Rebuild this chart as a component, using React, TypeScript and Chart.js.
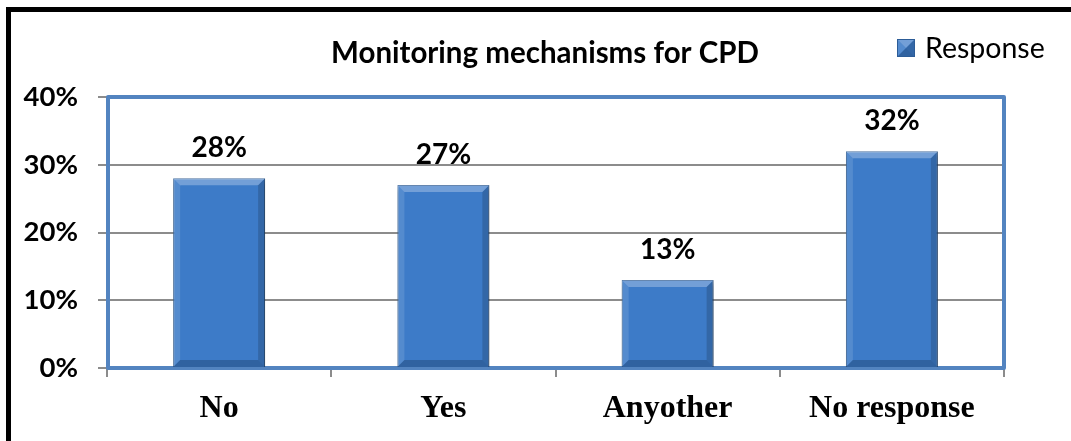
import React, { useEffect, useRef } from "react";
import { Chart, registerables } from "chart.js";

Chart.register(...registerables);

const TITLE_TEXT = "Monitoring mechanisms for CPD";
const SERIES_LABEL = "Response";
const CATEGORIES = ["No", "Yes", "Anyother", "No response"];
const VALUES = [0.28, 0.27, 0.13, 0.32];
const Y_MAX = 0.4;
const Y_STEP = 0.1;

const SANS = "Lato, 'Liberation Sans', sans-serif";
const SERIF = "'Liberation Serif', 'Times New Roman', serif";
const BAR_FACE = "#3d7bc8";
const BAR_EDGE = "#2c5c97";
const FRAME_BLUE = "#5384c0";

const pct = (v: number) => `${Math.round(v * 100)}%`;

// Bevelled rectangle: light top, dark bottom, shaded sides
function drawBevel(ctx: CanvasRenderingContext2D, l: number, t: number, r: number, b: number, bev: number) {
  const faces: [string, number[][]][] = [
    ["rgba(255,255,255,0.28)", [[l, t], [r, t], [r - bev, t + bev], [l + bev, t + bev]]],
    ["rgba(255,255,255,0.12)", [[l, t], [l + bev, t + bev], [l + bev, b - bev], [l, b]]],
    ["rgba(0,0,0,0.16)", [[r, t], [r, b], [r - bev, b - bev], [r - bev, t + bev]]],
    ["rgba(0,0,0,0.20)", [[l, b], [l + bev, b - bev], [r - bev, b - bev], [r, b]]],
  ];
  for (const [color, pts] of faces) {
    ctx.beginPath();
    ctx.moveTo(pts[0][0], pts[0][1]);
    for (let i = 1; i < pts.length; i++) ctx.lineTo(pts[i][0], pts[i][1]);
    ctx.closePath();
    ctx.fillStyle = color;
    ctx.fill();
  }
}

const decorPlugin = {
  id: "decor",
  beforeDraw(chart: any) {
    const { ctx, width, height } = chart;
    ctx.save();
    ctx.fillStyle = "#ffffff";
    ctx.fillRect(0, 0, width, height);
    // outer black frame: only its left and top edges fall inside the canvas
    ctx.fillStyle = "#000000";
    ctx.fillRect(6, 7, width - 6, 5);
    ctx.fillRect(6, 7, 5, height - 7);
    ctx.restore();
  },
  beforeDatasetsDraw(chart: any) {
    const { ctx, chartArea } = chart;
    const { left, top, right, bottom } = chartArea;
    ctx.save();
    ctx.strokeStyle = FRAME_BLUE;
    ctx.lineWidth = 4;
    ctx.lineJoin = "round";
    ctx.strokeRect(left + 1, top, right - left - 1, bottom - top);
    ctx.restore();
    // soft drop shadow under the bars
    ctx.save();
    ctx.shadowColor = "rgba(0,0,0,0.35)";
    ctx.shadowBlur = 6;
    ctx.shadowOffsetX = 1;
    ctx.shadowOffsetY = 3;
  },
  afterDatasetsDraw(chart: any) {
    const { ctx } = chart;
    ctx.restore();
    const meta = chart.getDatasetMeta(0);
    ctx.save();
    meta.data.forEach((bar: any, i: number) => {
      const { x, y, base, width } = bar.getProps(["x", "y", "base", "width"], true);
      drawBevel(ctx, x - width / 2, y, x + width / 2, base, 7);
      const v = chart.data.datasets[0].data[i] as number;
      ctx.fillStyle = "#000000";
      ctx.font = `bold 28px ${SANS}`;
      ctx.textAlign = "center";
      ctx.textBaseline = "alphabetic";
      ctx.fillText(pct(v), x, y - 21);
    });
    ctx.restore();
  },
  afterDraw(chart: any) {
    const { ctx } = chart;
    ctx.save();
    ctx.fillStyle = "#000000";
    ctx.textBaseline = "middle";
    ctx.textAlign = "center";
    ctx.font = `bold 29.5px ${SANS}`;
    ctx.fillText(TITLE_TEXT, 545, 53);
    // legend
    const mx = 897, my = 39, ms = 18;
    ctx.fillStyle = BAR_FACE;
    ctx.fillRect(mx, my, ms, ms);
    drawBevel(ctx, mx, my, mx + ms, my + ms, ms / 2);
    ctx.strokeStyle = BAR_EDGE;
    ctx.lineWidth = 1;
    ctx.strokeRect(mx + 0.5, my + 0.5, ms - 1, ms - 1);
    ctx.fillStyle = "#000000";
    ctx.textAlign = "left";
    ctx.font = `28.5px ${SANS}`;
    ctx.fillText(chart.data.datasets[0].label, 925, 49);
    ctx.restore();
  },
};

export default function App() {
  const canvasRef = useRef<HTMLCanvasElement | null>(null);

  useEffect(() => {
    document.documentElement.style.overflow = "hidden";
    document.body.style.margin = "0";
    document.body.style.overflow = "hidden";
    const canvas = canvasRef.current;
    if (!canvas) return;
    const chart = new Chart(canvas, {
      type: "bar",
      data: {
        labels: CATEGORIES,
        datasets: [
          {
            label: SERIES_LABEL,
            data: VALUES,
            backgroundColor: BAR_FACE,
            borderColor: BAR_EDGE,
            borderWidth: 1,
            barPercentage: 0.41,
            categoryPercentage: 1,
          },
        ],
      },
      options: {
        responsive: false,
        animation: false,
        layout: { padding: { top: 97, right: 67, left: 0, bottom: 0 } },
        plugins: {
          legend: { display: false },
          title: { display: false },
          tooltip: { enabled: false },
        },
        scales: {
          y: {
            min: 0,
            max: Y_MAX,
            afterFit: (s: any) => {
              s.width = 107;
            },
            ticks: {
              stepSize: Y_STEP,
              callback: (v: any) => pct(Number(v)),
              color: "#000000",
              font: { family: SANS, size: 27.5, weight: "bold" },
              padding: 20,
            },
            grid: { color: "#8c8c8c", lineWidth: 2, tickLength: 9 },
            border: { display: false },
          },
          x: {
            afterFit: (s: any) => {
              s.height = 73;
            },
            ticks: {
              color: "#000000",
              font: { family: SERIF, size: 32, weight: "bold" },
              padding: 13,
            },
            grid: {
              offset: true,
              drawOnChartArea: false,
              color: "#8c8c8c",
              lineWidth: 2,
              tickLength: 9,
            },
            border: { display: false },
          },
        },
      },
      plugins: [decorPlugin],
    });
    return () => chart.destroy();
  }, []);

  return (
    <div style={{ position: "fixed", left: 0, top: 0, width: 1071, height: 441, overflow: "hidden" }}>
      <canvas ref={canvasRef} width={1071} height={441} style={{ display: "block" }} />
    </div>
  );
}
